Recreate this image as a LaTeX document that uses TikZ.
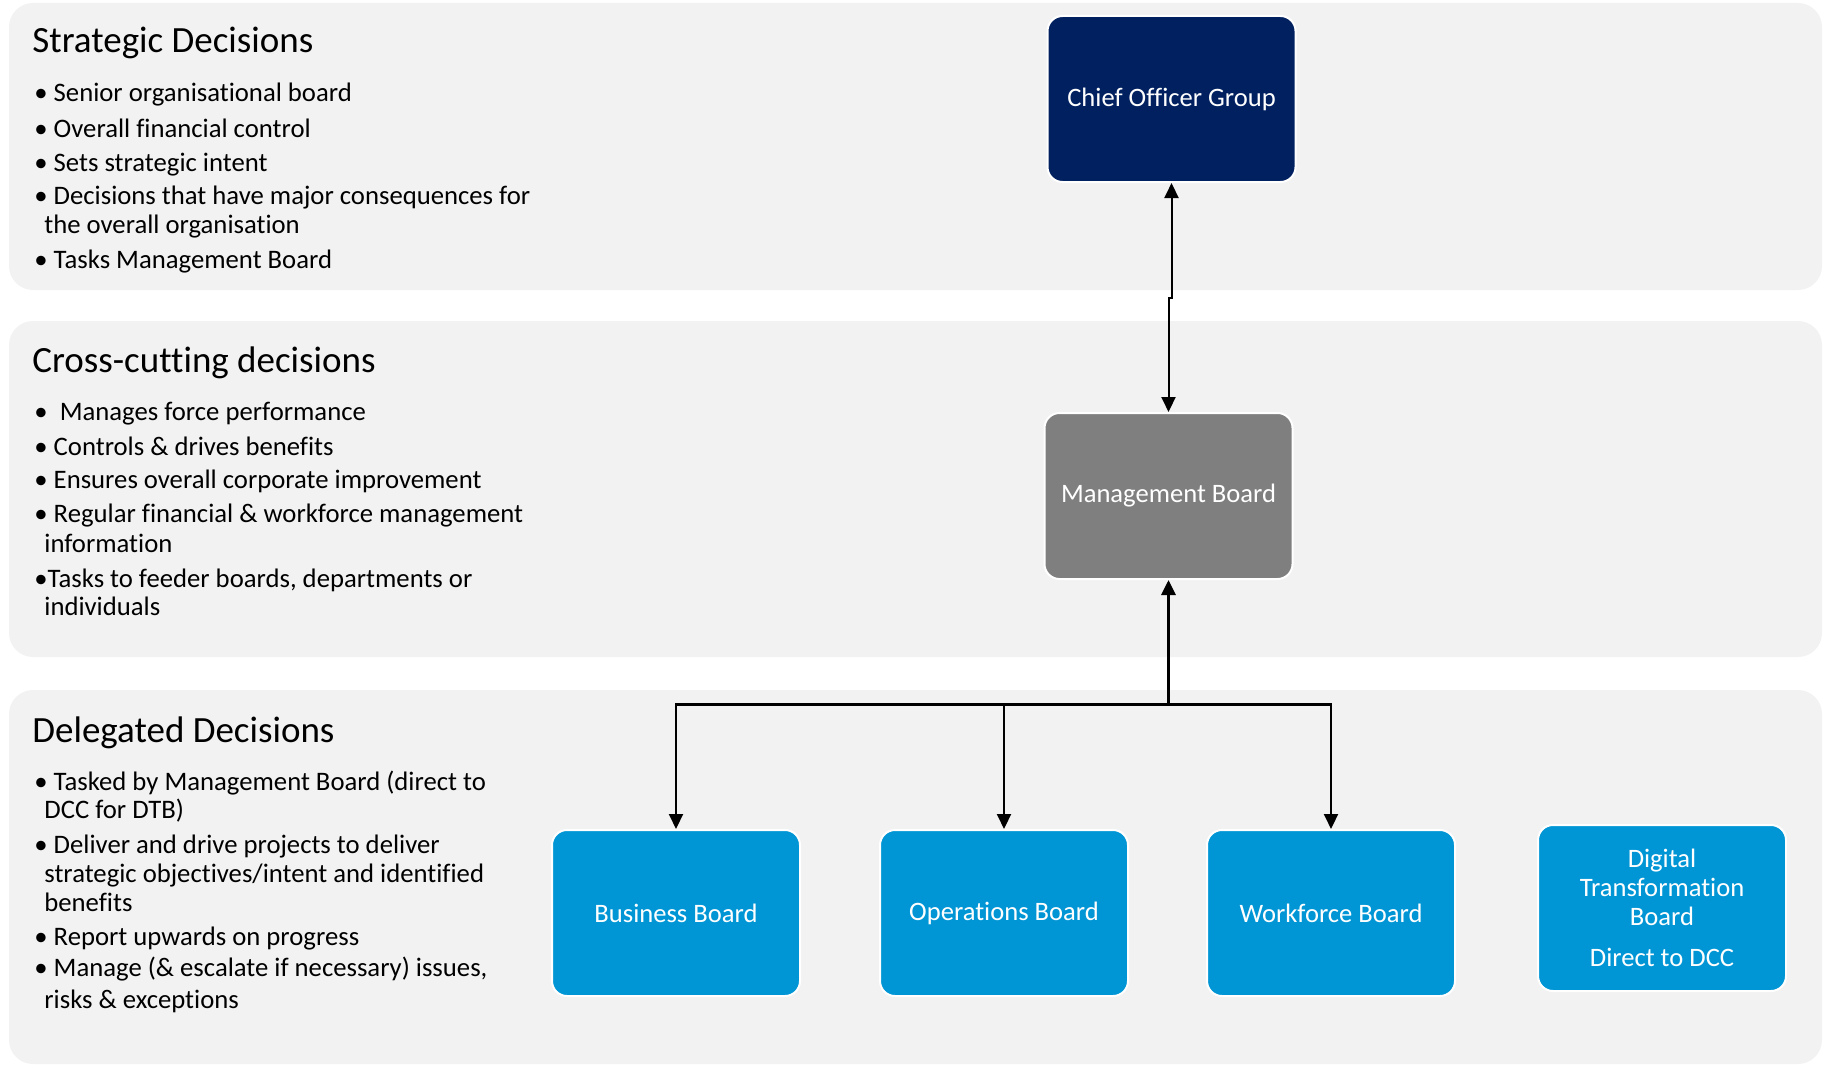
\documentclass[tikz,border=0pt]{standalone}
\usepackage{fontspec}
\setmainfont{Carlito}[Ligatures=NoCommon]
\usetikzlibrary{arrows.meta}
\definecolor{panel}{HTML}{F2F2F2}
\definecolor{navy}{HTML}{002060}
\definecolor{slate}{HTML}{7F7F7F}
\definecolor{azure}{HTML}{0096D6}

\begin{document}
\begin{tikzpicture}[x=0.5pt, y=-0.5pt,
  >={Triangle[width=7pt,length=7.5pt]},
  board/.style={draw=white, line width=1pt, rounded corners=7.5pt, text=white,
    minimum width=124pt, minimum height=83pt, inner sep=2pt, align=center,
    font=\fontsize{13.3}{14.5}\selectfont},
  head/.style={anchor=base west, inner sep=0pt, font=\fontsize{18.5}{22}\selectfont},
  item/.style={anchor=base west, inner sep=0pt, font=\fontsize{13.35}{14.5}\selectfont},
  link/.style={line width=1pt}]
  % page size is the screenshot size, 1 unit = 1 px
  \useasboundingbox (0,0) rectangle (1823,1065);

  % three decision bands
  \fill[panel, rounded corners=12pt] (9,3) rectangle (1822,290);
  \fill[panel, rounded corners=12pt] (9,321) rectangle (1822,657);
  \fill[panel, rounded corners=12pt] (9,690) rectangle (1822,1064);

  % strategic band text
  \node[head] (sdhead) at (32,53) {Strategic Decisions};
  \foreach \x/\y/\t [count=\i] in {%
    34/102/{\textbullet\ Senior organisational board},
    34/137/{\textbullet\ Overall financial control},
    34/171/{\textbullet\ Sets strategic intent},
    34/204/{\textbullet\ Decisions that have major consequences for},
    44/233/{the overall organisation},
    34/268/{\textbullet\ Tasks Management Board}
  }{
    \node[item] (sd\i) at (\x,\y) {\t};
  }

  % cross-cutting band text
  \node[head] (cchead) at (32,372) {Cross-cutting decisions};
  \foreach \x/\y/\t [count=\i] in {%
    34/420/{\textbullet\ \ Manages force performance},
    34/455/{\textbullet\ Controls \& drives benefits},
    34/488/{\textbullet\ Ensures overall corporate improvement},
    34/522/{\textbullet\ Regular financial \& workforce management},
    44/552/{information},
    34/587/{\textbullet Tasks to feeder boards, departments or},
    44/615/{individuals}
  }{
    \node[item] (cc\i) at (\x,\y) {\t};
  }

  % delegated band text
  \node[head] (ddhead) at (32,742) {Delegated Decisions};
  \foreach \x/\y/\t [count=\i] in {%
    34/790/{\textbullet\ Tasked by Management Board (direct to},
    44/818/{DCC for DTB)},
    34/853/{\textbullet\ Deliver and drive projects to deliver},
    44/882/{strategic objectives/intent and identified},
    44/911/{benefits},
    34/945/{\textbullet\ Report upwards on progress},
    34/976/{\textbullet\ Manage (\& escalate if necessary) issues,},
    44/1008/{risks \& exceptions}
  }{
    \node[item] (dd\i) at (\x,\y) {\t};
  }

  % boards
  \node[board, fill=navy] (cog) at (1171.5,99) {Chief Officer Group};
  \node[board, fill=slate] (mb) at (1168.5,496) {Management Board};
  \node[board, fill=azure] (bb) at (676,913) {Business Board};
  \node[board, fill=azure] (ob) at (1004,913) {Operations Board};
  \node[board, fill=azure] (wb) at (1331,913) {Workforce Board};
  \node[board, fill=azure] (dtb) at (1662,908)
    {Digital\\Transformation\\Board\\[6pt]Direct to DCC};

  % reporting lines
  \draw[link, <->] (cog.south) -- ++(0,115) -| (mb.north);
  \coordinate (bus) at (1168.5,704);
  \draw[link, line width=1.5pt, ->] (bus) -- (mb.south);
  \foreach \b in {bb,ob,wb}
    \draw[link, ->] (bus) -| (\b.north);
  \draw[line width=1.5pt] (bus) -| (bb.north |- bus) (bus) -| (wb.north |- bus);
\end{tikzpicture}
\end{document}
